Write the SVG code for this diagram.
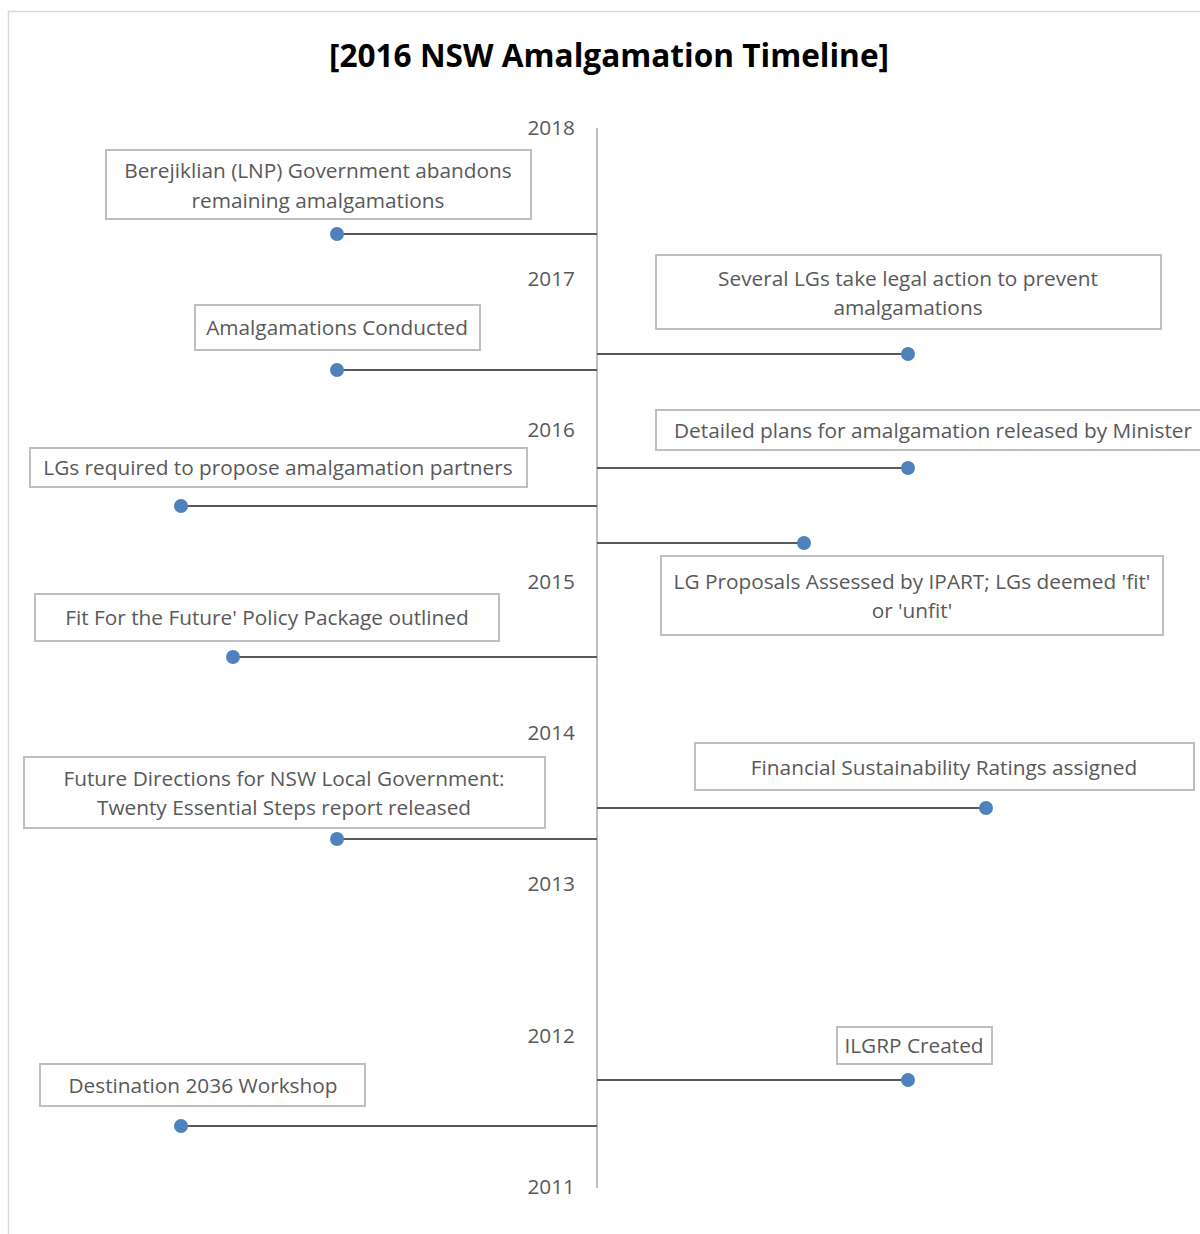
<svg xmlns="http://www.w3.org/2000/svg" width="1200" height="1234" viewBox="0 0 1200 1234">
<style>
.frame{fill:none;stroke:#d9d9d9;stroke-width:1.5}
.box{fill:#fff;stroke:#bfbfbf;stroke-width:2}
.lbl{font-family:"Open Sans","Liberation Sans",sans-serif;font-size:20.8px;fill:#595959;text-anchor:middle}
.yr{font-family:"Open Sans","Liberation Sans",sans-serif;font-size:20.8px;fill:#595959;text-anchor:end}
.title{font-family:"Open Sans","Liberation Sans",sans-serif;font-size:31.6px;font-weight:bold;fill:#000;text-anchor:middle}
.axis{stroke:#bfbfbf;stroke-width:2}
.conn{stroke:#595959;stroke-width:2;fill:none}
.dot{fill:#4f81bd}
</style>
<rect width="1200" height="1234" fill="#fff"/>
<path class="frame" d="M8.5 1234 V11.5 H1200"/>
<text class="title" x="609" y="67">[2016 NSW Amalgamation Timeline]</text>
<g id="axis">
<line class="axis" x1="597" y1="128" x2="597" y2="1188"/>
<text class="yr" x="575" y="135">2018</text>
<text class="yr" x="575" y="286">2017</text>
<text class="yr" x="575" y="437">2016</text>
<text class="yr" x="575" y="589">2015</text>
<text class="yr" x="575" y="740">2014</text>
<text class="yr" x="575" y="891">2013</text>
<text class="yr" x="575" y="1043">2012</text>
<text class="yr" x="575" y="1194">2011</text>
</g>
<g id="connectors">
<line class="conn" x1="337" y1="234" x2="597" y2="234"/>
<line class="conn" x1="337" y1="370" x2="597" y2="370"/>
<line class="conn" x1="181" y1="506" x2="597" y2="506"/>
<line class="conn" x1="233" y1="657" x2="597" y2="657"/>
<line class="conn" x1="337" y1="839" x2="597" y2="839"/>
<line class="conn" x1="181" y1="1126" x2="597" y2="1126"/>
<line class="conn" x1="597" y1="354" x2="908" y2="354"/>
<line class="conn" x1="597" y1="468" x2="908" y2="468"/>
<line class="conn" x1="597" y1="543" x2="804" y2="543"/>
<line class="conn" x1="597" y1="808" x2="986" y2="808"/>
<line class="conn" x1="597" y1="1080" x2="908" y2="1080"/>
<circle class="dot" cx="337" cy="234" r="7"/>
<circle class="dot" cx="337" cy="370" r="7"/>
<circle class="dot" cx="181" cy="506" r="7"/>
<circle class="dot" cx="233" cy="657" r="7"/>
<circle class="dot" cx="337" cy="839" r="7"/>
<circle class="dot" cx="181" cy="1126" r="7"/>
<circle class="dot" cx="908" cy="354" r="7"/>
<circle class="dot" cx="908" cy="468" r="7"/>
<circle class="dot" cx="804" cy="543" r="7"/>
<circle class="dot" cx="986" cy="808" r="7"/>
<circle class="dot" cx="908" cy="1080" r="7"/>
</g>
<g id="n2017b">
<rect class="box" x="106" y="150" width="425" height="69"/>
<text class="lbl" x="318" y="178">Berejiklian (LNP) Government abandons</text>
<text class="lbl" x="318" y="208">remaining amalgamations</text>
</g>
<g id="n2016c">
<rect class="box" x="195" y="305" width="285" height="45"/>
<text class="lbl" x="337" y="335">Amalgamations Conducted</text>
</g>
<g id="n2015b">
<rect class="box" x="30" y="448" width="497" height="39"/>
<text class="lbl" x="278" y="475">LGs required to propose amalgamation partners</text>
</g>
<g id="n2014b">
<rect class="box" x="35" y="594" width="464" height="47"/>
<text class="lbl" x="267" y="625">Fit For the Future' Policy Package outlined</text>
</g>
<g id="n2013b">
<rect class="box" x="24" y="757" width="521" height="71"/>
<text class="lbl" x="284" y="786">Future Directions for NSW Local Government:</text>
<text class="lbl" x="284" y="815">Twenty Essential Steps report released</text>
</g>
<g id="n2011b">
<rect class="box" x="40" y="1064" width="325" height="42"/>
<text class="lbl" x="203" y="1093">Destination 2036 Workshop</text>
</g>
<g id="n2017a">
<rect class="box" x="656" y="255" width="505" height="74"/>
<text class="lbl" x="908" y="286">Several LGs take legal action to prevent</text>
<text class="lbl" x="908" y="315">amalgamations</text>
</g>
<g id="n2016a">
<rect class="box" x="656" y="410" width="560" height="40"/>
<text class="lbl" x="933" y="438">Detailed plans for amalgamation released by Minister</text>
</g>
<g id="n2015a">
<rect class="box" x="661" y="556" width="502" height="79"/>
<text class="lbl" x="912" y="589">LG Proposals Assessed by IPART; LGs deemed 'fit'</text>
<text class="lbl" x="912" y="618">or 'unfit'</text>
</g>
<g id="n2013a">
<rect class="box" x="695" y="743" width="499" height="47"/>
<text class="lbl" x="944" y="775">Financial Sustainability Ratings assigned</text>
</g>
<g id="n2012a">
<rect class="box" x="837" y="1027" width="155" height="37"/>
<text class="lbl" x="914" y="1053">ILGRP Created</text>
</g>
</svg>
